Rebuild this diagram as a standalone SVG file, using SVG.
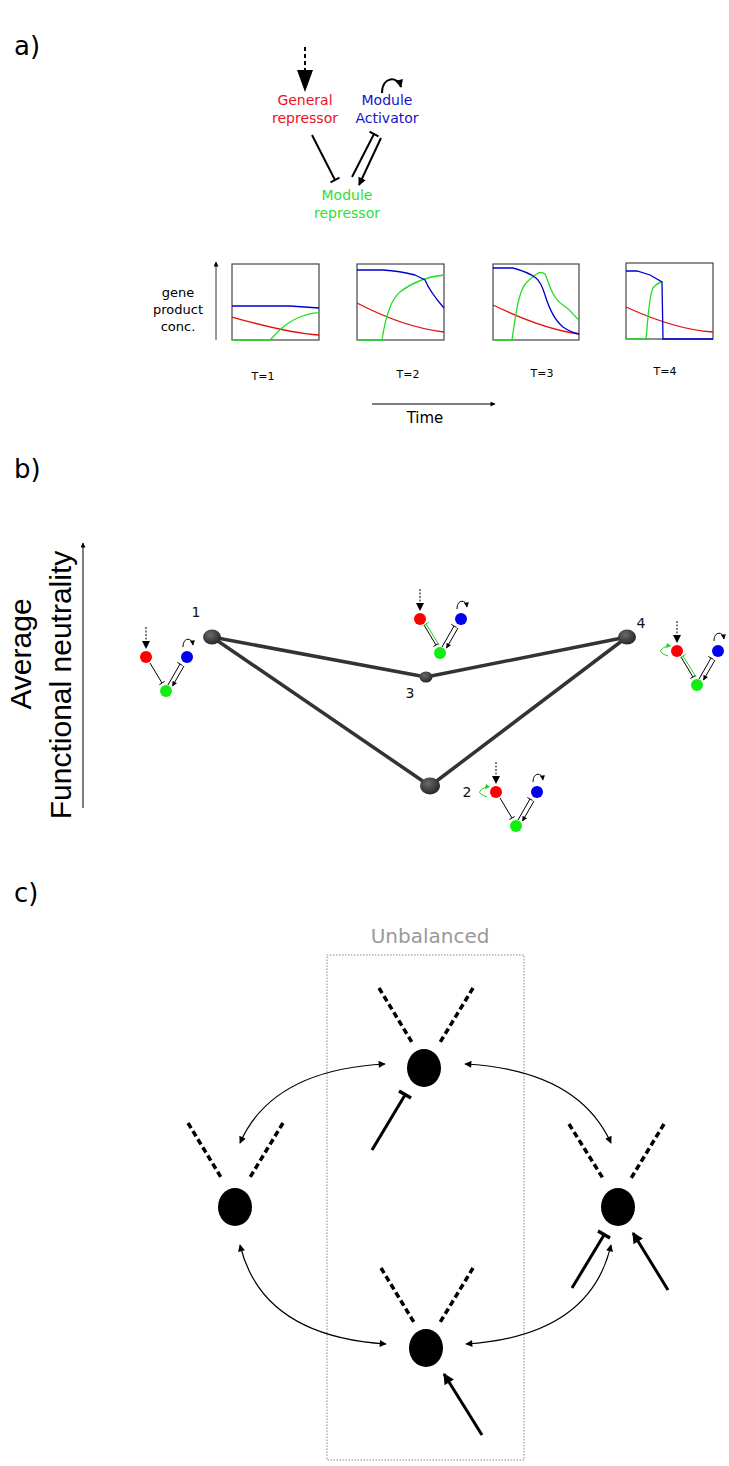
<svg xmlns="http://www.w3.org/2000/svg" width="729" height="1466" viewBox="0 0 729 1466">
<style>
  text { font-family: "DejaVu Sans", sans-serif; }
  .lbl { font-size: 26px; fill: #000; }
  .net { font-size: 14px; text-anchor: middle; }
  .tl { font-size: 11px; text-anchor: middle; fill: #000; }
  .ax { font-family: "Liberation Sans", Arial, sans-serif; font-size: 30px; text-anchor: middle; fill: #000; }
  .box { fill: #fff; stroke: #444; stroke-width: 1.2; }
  .cb { fill: none; stroke: #0000cc; stroke-width: 1.3; }
  .cr { fill: none; stroke: #e01010; stroke-width: 1.3; }
  .cg { fill: none; stroke: #22dd22; stroke-width: 1.3; }
  .edge { stroke: #333; stroke-width: 3.5; stroke-linecap: round; fill: none; }
  .num { font-size: 14px; text-anchor: middle; fill: #111; }
  .thin { stroke: #000; stroke-width: 1; fill: none; }
  .gthin { stroke: #22cc22; stroke-width: 1; fill: none; }
  .dash { stroke: #000; stroke-width: 3.5; stroke-dasharray: 6 3.5; fill: none; }
  .thick { stroke: #000; stroke-width: 3; fill: none; }
  .arc { stroke: #000; stroke-width: 1.2; fill: none; }
</style>
<defs>
  <radialGradient id="ball" cx="0.4" cy="0.35" r="0.7">
    <stop offset="0" stop-color="#6a6a6a"/>
    <stop offset="1" stop-color="#222"/>
  </radialGradient>
  <marker id="ah" viewBox="0 0 10 10" refX="9" refY="5" markerWidth="10" markerHeight="7" markerUnits="userSpaceOnUse" orient="auto-start-reverse">
    <path d="M0,0 L10,5 L0,10 z" fill="#000"/>
  </marker>
  <marker id="ahs" viewBox="0 0 10 10" refX="9" refY="5" markerWidth="7" markerHeight="5" markerUnits="userSpaceOnUse" orient="auto">
    <path d="M0,0 L10,5 L0,10 z" fill="#000"/>
  </marker>
  <marker id="ahb" viewBox="0 0 10 10" refX="9" refY="5" markerWidth="15" markerHeight="11" markerUnits="userSpaceOnUse" orient="auto">
    <path d="M0,0 L10,5 L0,10 z" fill="#000"/>
  </marker>
  <marker id="ahm" viewBox="0 0 10 10" refX="9" refY="5" markerWidth="9" markerHeight="8" markerUnits="userSpaceOnUse" orient="auto">
    <path d="M0,0 L10,5 L0,10 z" fill="#000"/>
  </marker>
  <g id="mini">
    <line x1="0" y1="-30" x2="0" y2="-15" stroke="#000" stroke-width="1" stroke-dasharray="2 1.5"/>
    <path d="M-4,-16 L4,-16 L0,-8 z" fill="#000"/>
    <path d="M37,-10 C37,-20 46,-20 47,-12" class="thin" marker-end="url(#ahs)"/>
    <line x1="4" y1="6" x2="16" y2="26" class="thin"/>
    <line x1="13.4" y1="27.5" x2="18.6" y2="24.5" class="thin"/>
    <line x1="22" y1="28" x2="34" y2="7" class="thin"/>
    <line x1="31.4" y1="5.5" x2="36.6" y2="8.5" class="thin"/>
    <line x1="38" y1="9" x2="26.5" y2="29" class="thin" marker-end="url(#ahs)"/>
    <circle cx="0" cy="0" r="6" fill="#ff0000"/>
    <circle cx="41" cy="0" r="6" fill="#0000ee"/>
    <circle cx="20" cy="34" r="6" fill="#11ee11"/>
  </g>
  <g id="gline">
    <line x1="6" y1="5" x2="19" y2="26" class="gthin"/>
    <line x1="3.4" y1="6.6" x2="8.6" y2="3.4" class="gthin"/>
  </g>
  <g id="gloop">
    <path d="M-9,5 Q-18,2 -16,-1 Q-14,-4 -9,-5" class="gthin"/>
    <path d="M-10,-8 L-6,-5 L-11,-3 z" fill="#22cc22"/>
  </g>
</defs>

<!-- ============ Section a ============ -->
<text class="lbl" x="14" y="55">a)</text>

<g id="connectors-a">
  <line x1="305" y1="47" x2="305" y2="72" stroke="#000" stroke-width="2" stroke-dasharray="4 3"/>
  <path d="M297,70 L313,70 L305,92 z" fill="#000"/>
  <path d="M382,93 C382,76 398,76 401,87" stroke="#000" stroke-width="2" fill="none" marker-end="url(#ahm)"/>
  <line x1="312" y1="135" x2="335" y2="180" stroke="#000" stroke-width="2"/>
  <line x1="330.5" y1="182.3" x2="339.5" y2="177.7" stroke="#000" stroke-width="2"/>
  <line x1="352" y1="177" x2="374" y2="134" stroke="#000" stroke-width="2"/>
  <line x1="369.5" y1="131.7" x2="378.5" y2="136.3" stroke="#000" stroke-width="2"/>
  <line x1="381" y1="138" x2="359" y2="185" stroke="#000" stroke-width="2" marker-end="url(#ahm)"/>
</g>
<g id="general-repressor">
  <text class="net" x="305" y="105" fill="#e8141c">General</text>
  <text class="net" x="305" y="123" fill="#e8141c">repressor</text>
</g>
<g id="module-activator">
  <text class="net" x="387" y="105" fill="#1414cc">Module</text>
  <text class="net" x="387" y="123" fill="#1414cc">Activator</text>
</g>
<g id="module-repressor">
  <text class="net" x="347" y="200" fill="#33dd33">Module</text>
  <text class="net" x="347" y="218" fill="#33dd33">repressor</text>
</g>

<g id="axis-a">
  <text x="178" y="297" font-size="13" text-anchor="middle">gene</text>
  <text x="178" y="314" font-size="13" text-anchor="middle">product</text>
  <text x="178" y="331" font-size="13" text-anchor="middle">conc.</text>
  <line x1="216" y1="340" x2="216" y2="262" stroke="#000" stroke-width="0.8" marker-end="url(#ahs)"/>
</g>

<g id="plot1">
  <rect class="box" x="232" y="264" width="87" height="76"/>
  <path class="cb" d="M232,306 L290,306 Q305,307 319,308"/>
  <path class="cr" d="M232,317 C260,325 290,333 319,335"/>
  <path class="cg" d="M232,340 L270,340 C278,332 286,322 300,317 S314,313 319,313"/>
  <text class="tl" x="263" y="380">T=1</text>
</g>
<g id="plot2">
  <rect class="box" x="357" y="264" width="87" height="76"/>
  <path class="cr" d="M357,303 C380,315 410,328 444,332"/>
  <path class="cg" d="M357,340 L382,340 C385,320 390,300 400,292 S425,277 444,275"/>
  <path class="cb" d="M357,270 L383,270 Q400,271 415,275 L425,280 Q430,292 444,308"/>
  <text class="tl" x="408" y="378">T=2</text>
</g>
<g id="plot3">
  <rect class="box" x="493" y="264" width="86" height="76"/>
  <path class="cr" d="M493,305 C520,318 550,330 579,334"/>
  <path class="cg" d="M493,340 L512,340 C515,320 518,290 527,282 S540,270 545,274 C550,285 552,298 563,305 S575,318 579,320"/>
  <path class="cb" d="M493,268 L513,268 Q528,272 536,278 Q541,282 545,295 Q552,318 563,327 Q570,332 579,334"/>
  <text class="tl" x="542" y="377">T=3</text>
</g>
<g id="plot4">
  <rect class="box" x="626" y="263" width="87" height="76"/>
  <path class="cr" d="M626,307 C650,318 680,330 713,332"/>
  <path class="cg" d="M626,339 L646,339 C648,320 649,295 653,288 Q657,283 662,282"/>
  <path class="cb" d="M626,271 L637,271 L650,275 L662,282 L663,339 L713,339"/>
  <text class="tl" x="665" y="375">T=4</text>
</g>
<g id="time-axis">
  <line x1="372" y1="404" x2="495" y2="404" stroke="#000" stroke-width="1" marker-end="url(#ahs)"/>
  <text x="425" y="423" font-size="15" text-anchor="middle">Time</text>
</g>

<!-- ============ Section b ============ -->
<text class="lbl" x="14" y="478">b)</text>
<g id="axis-b">
  <text class="ax" transform="translate(31,654) rotate(-90)">Average</text>
  <text class="ax" transform="translate(71,685) rotate(-90)">Functional neutrality</text>
  <line x1="83" y1="808" x2="83" y2="543" stroke="#000" stroke-width="1" marker-end="url(#ahs)"/>
</g>
<g id="connectors-b">
  <line class="edge" x1="212" y1="637" x2="426" y2="677"/>
  <line class="edge" x1="426" y1="677" x2="627" y2="637"/>
  <line class="edge" x1="212" y1="637" x2="430" y2="786"/>
  <line class="edge" x1="430" y1="786" x2="627" y2="637"/>
</g>
<g id="state1">
  <ellipse cx="212" cy="637" rx="9" ry="7.5" fill="url(#ball)"/>
  <text class="num" x="196" y="617">1</text>
  <use href="#mini" x="146" y="657"/>
</g>
<g id="state3">
  <ellipse cx="426" cy="677" rx="6.5" ry="5.5" fill="url(#ball)"/>
  <text class="num" x="410" y="698">3</text>
  <use href="#mini" x="420" y="619"/>
  <use href="#gline" x="420" y="619"/>
</g>
<g id="state4">
  <ellipse cx="627" cy="637" rx="9" ry="7.5" fill="url(#ball)"/>
  <text class="num" x="641" y="628">4</text>
  <use href="#mini" x="677" y="651"/>
  <use href="#gline" x="677" y="651"/>
  <use href="#gloop" x="677" y="651"/>
</g>
<g id="state2">
  <ellipse cx="430" cy="786" rx="10" ry="8.5" fill="url(#ball)"/>
  <text class="num" x="467" y="797">2</text>
  <use href="#mini" x="496" y="792"/>
  <use href="#gloop" x="496" y="792"/>
</g>

<!-- ============ Section c ============ -->
<text class="lbl" x="14" y="902">c)</text>
<g id="unbalanced-box">
  <text x="430" y="943" font-size="20" text-anchor="middle" fill="#999">Unbalanced</text>
  <rect x="327" y="955" width="197" height="505" fill="none" stroke="#888" stroke-width="1" stroke-dasharray="1.5 1.5"/>
</g>
<g id="connectors-c">
  <path class="arc" d="M385,1064 Q272,1070 240,1143" marker-start="url(#ah)" marker-end="url(#ah)"/>
  <path class="arc" d="M465,1064 Q578,1070 611,1143" marker-start="url(#ah)" marker-end="url(#ah)"/>
  <path class="arc" d="M240,1245 Q262,1336 386,1344" marker-start="url(#ah)" marker-end="url(#ah)"/>
  <path class="arc" d="M611,1245 Q590,1336 466,1344" marker-start="url(#ah)" marker-end="url(#ah)"/>
</g>
<g id="node-top">
  <line class="dash" x1="379" y1="988" x2="413" y2="1044"/>
  <line class="dash" x1="473" y1="988" x2="439" y2="1044"/>
  <ellipse cx="424" cy="1068" rx="17" ry="19" fill="#000"/>
  <line class="thick" x1="372" y1="1150" x2="405" y2="1095"/>
  <line x1="399" y1="1091" x2="411" y2="1098" stroke="#000" stroke-width="3.5"/>
</g>
<g id="node-left">
  <line class="dash" x1="188" y1="1123" x2="222" y2="1179"/>
  <line class="dash" x1="283" y1="1123" x2="249" y2="1179"/>
  <ellipse cx="235" cy="1207" rx="17" ry="19" fill="#000"/>
</g>
<g id="node-right">
  <line class="dash" x1="569" y1="1124" x2="604" y2="1180"/>
  <line class="dash" x1="664" y1="1124" x2="630" y2="1180"/>
  <ellipse cx="618" cy="1207" rx="17" ry="19" fill="#000"/>
  <line class="thick" x1="572" y1="1288" x2="604" y2="1235"/>
  <line x1="598" y1="1231" x2="610" y2="1238" stroke="#000" stroke-width="3.5"/>
  <line class="thick" x1="668" y1="1290" x2="633" y2="1233" marker-end="url(#ahb)"/>
</g>
<g id="node-bottom">
  <line class="dash" x1="381" y1="1268" x2="415" y2="1324"/>
  <line class="dash" x1="473" y1="1268" x2="439" y2="1324"/>
  <ellipse cx="426" cy="1348" rx="17" ry="19" fill="#000"/>
  <line class="thick" x1="482" y1="1435" x2="444" y2="1374" marker-end="url(#ahb)"/>
</g>
</svg>
